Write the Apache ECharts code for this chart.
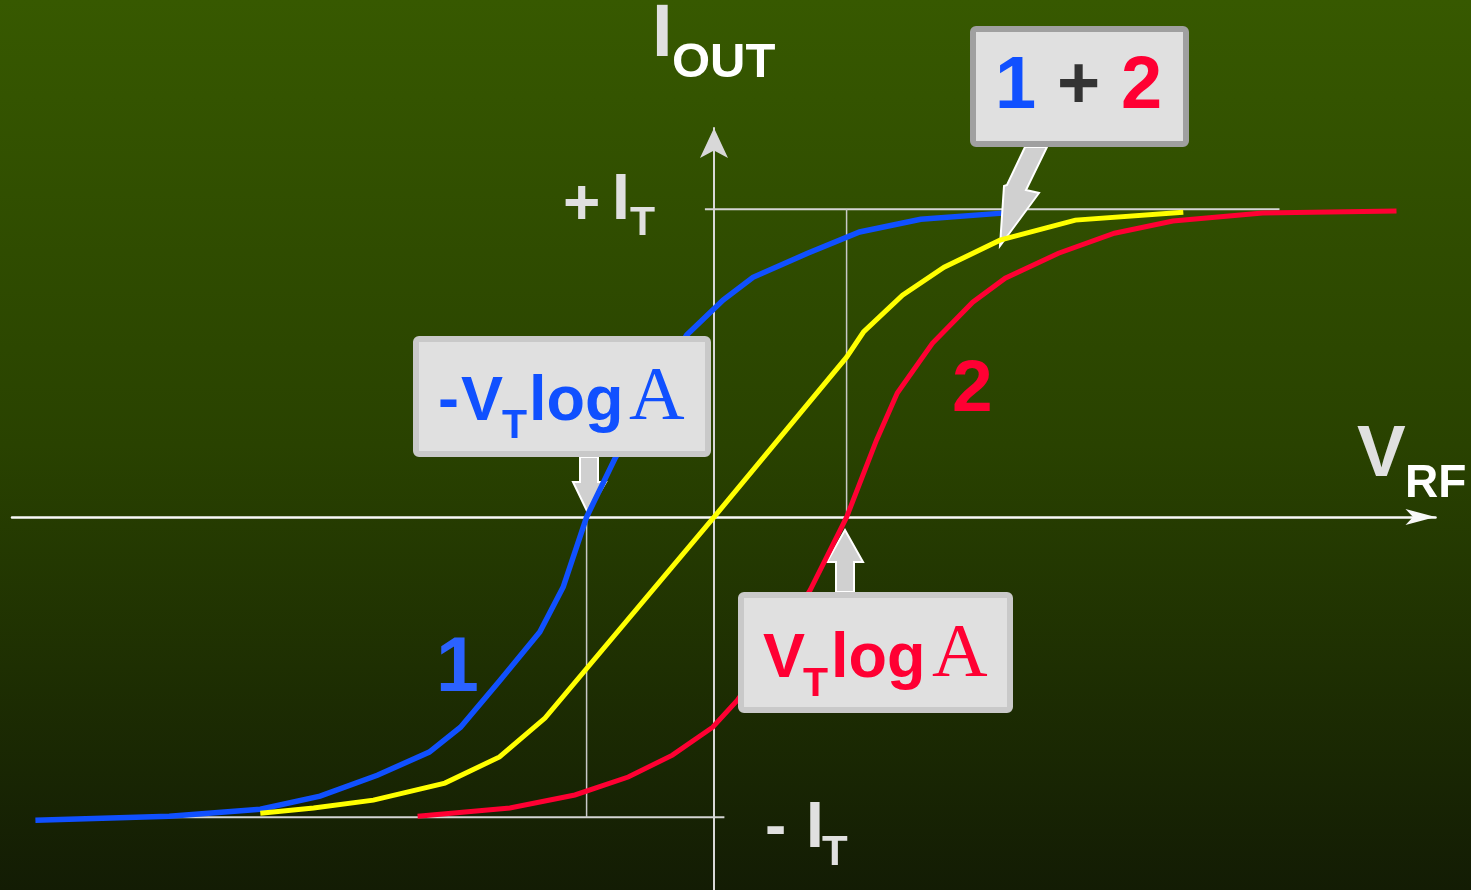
<!DOCTYPE html>
<html lang="ja">
<head>
<meta charset="utf-8" />
<title>I_OUT - V_RF</title>
<script src="https://cdn.jsdelivr.net/npm/echarts@6.0.0/dist/echarts.min.js"></script>
<style>
  html, body { margin: 0; padding: 0; background: #1c2c02; }
  .chart-container { width: 1471px; height: 890px; }
</style>
</head>
<body>
<div id="chart" class="chart-container"></div>
<script>
// 横軸: V_RF（VT·logA 単位）、縦軸: I_OUT（I_T 単位）

// 曲線1（青）
const curve1X = [-5.22, -4.19, -3.49, -3.03, -2.59, -2.19, -1.95, -1.65, -1.34, -1.16, -0.98, -0.76, -0.49, -0.21, 0.07, 0.30, 0.72, 1.12, 1.59, 2.22];
const curve1Y = [-0.997, -0.984, -0.961, -0.918, -0.849, -0.773, -0.691, -0.539, -0.378, -0.230, 0, 0.194, 0.401, 0.599, 0.714, 0.789, 0.868, 0.938, 0.980, 1.0];

// 曲線 1 + 2（黄）
const sumX = [-3.49, -3.08, -2.62, -2.07, -1.65, -1.30, 0, 1.02, 1.15, 1.45, 1.77, 2.20, 2.78, 3.61];
const sumY = [-0.974, -0.957, -0.931, -0.875, -0.789, -0.661, 0, 0.526, 0.609, 0.730, 0.822, 0.911, 0.977, 1.003];

// 曲線2（赤）
const curve2X = [-2.28, -1.57, -1.07, -0.66, -0.32, -0.01, 0.18, 0.45, 0.74, 1.02, 1.25, 1.41, 1.68, 1.99, 2.24, 2.65, 3.08, 3.53, 4.22, 5.25];
const curve2Y = [-0.984, -0.957, -0.914, -0.855, -0.783, -0.691, -0.602, -0.438, -0.240, 0, 0.253, 0.408, 0.572, 0.707, 0.786, 0.868, 0.934, 0.974, 1.0, 1.007];

// 補助線（±I_T と ±VT·logA）
const levelTop = 1.013;
const levelBottom = -0.987;
const topLineX = [-0.07, 4.35];
const bottomLineX = [-4.19, 0.08];
const offsetMinus = -0.98;
const offsetPlus = 1.02;

// 色
const BLUE = "#1050ff";
const YELLOW = "#ffff00";
const RED = "#ff0033";
const GUIDE = "#d4d4d4";

const zip = (xs, ys) => xs.map((x, i) => [x, ys[i]]);

const lineSeries = (name, data, color, width, z) => ({
  name,
  type: "line",
  data,
  z,
  smooth: false,
  showSymbol: false,
  symbol: "none",
  silent: true,
  lineStyle: { color, width, cap: "butt", join: "miter" },
});

const FONT = '"Liberation Sans", Arial, sans-serif';
const SERIF = '"Liberation Serif", "Times New Roman", serif';

// テキスト要素（verticalAlign middle で配置）
const txt = (text, x, y, size, fill, serif) => ({
  type: "text",
  x,
  y,
  z: 20,
  silent: true,
  style: {
    text,
    fill,
    font: (serif ? "normal " : "bold ") + size + "px " + (serif ? SERIF : FONT),
    align: "left",
    verticalAlign: "middle",
    textAlign: "left",
    textVerticalAlign: "middle",
  },
});

const box = (x, y, w, h, stroke) => ({
  type: "rect",
  z: 15,
  silent: true,
  shape: { x, y, width: w, height: h, r: 3 },
  style: { fill: "#e0e0e0", stroke, lineWidth: 6 },
});

const arrow = (points, z) => ({
  type: "polygon",
  z,
  silent: true,
  shape: { points },
  style: { fill: "#d0d0d0", stroke: "#ffffff", lineWidth: 2 },
});

const chart = echarts.init(document.getElementById("chart"), null, { renderer: "canvas" });

const option = {
  animation: false,
  backgroundColor: new echarts.graphic.LinearGradient(0, 0, 0, 1, [
    { offset: 0, color: "#375900" },
    { offset: 0.5, color: "#294200" },
    { offset: 1, color: "#131c04" },
  ]),
  grid: {
    left: 12,
    top: 128,
    width: 1423.5,
    height: 769.12,
    containLabel: false,
    outerBoundsMode: "none",
  },
  xAxis: {
    type: "value",
    min: -5.4,
    max: 5.55,
    axisLine: {
      onZero: true,
      symbol: ["none", "arrow"],
      symbolSize: [12, 30],
      lineStyle: { color: "#f8f8f8", width: 2.5 },
    },
    axisTick: { show: false },
    axisLabel: { show: false },
    splitLine: { show: false },
  },
  yAxis: {
    type: "value",
    min: -1.25,
    max: 1.28,
    axisLine: {
      onZero: true,
      symbol: ["none", "arrow"],
      symbolSize: [21, 30],
      lineStyle: { color: "#d8d8d8", width: 2 },
    },
    axisTick: { show: false },
    axisLabel: { show: false },
    splitLine: { show: false },
  },
  series: [
    lineSeries("+IT", topLineX.map((x) => [x, levelTop]), GUIDE, 2, 1),
    lineSeries("-IT", bottomLineX.map((x) => [x, levelBottom]), GUIDE, 2, 1),
    lineSeries("-VTlogA", [[offsetMinus, 0], [offsetMinus, levelBottom]], "#c8c8c8", 1.5, 1),
    lineSeries("VTlogA", [[offsetPlus, 0], [offsetPlus, levelTop]], "#c8c8c8", 1.5, 1),
    lineSeries("1", zip(curve1X, curve1Y), BLUE, 5.5, 3),
    lineSeries("2", zip(curve2X, curve2Y), RED, 5, 5),
    lineSeries("1 + 2", zip(sumX, sumY), YELLOW, 5, 6),
  ],
  graphic: {
    elements: [
      // 矢印
      arrow([[580, 457], [598, 457], [598, 482], [606, 482], [588, 513], [573, 482], [580, 482]], 2),
      arrow([[836, 592], [854, 592], [854, 562], [863, 562], [845, 530], [827, 562], [836, 562]], 2),
      arrow([[1025, 147], [1047, 147], [1026, 190], [1039, 193], [1000, 246], [1004, 186], [1007, 185]], 4),

      // 軸ラベル
      txt("I", 652, 36, 74, "#e0e0e0"),
      txt("OUT", 672, 63, 49, "#ffffff"),
      txt("V", 1357, 456, 73, "#e0e0e0"),
      txt("RF", 1405, 484, 46, "#ffffff"),
      txt("+", 563, 206, 64, "#e0e0e0"),
      txt("I", 612, 201, 64, "#e0e0e0"),
      txt("T", 630, 224, 41, "#e0e0e0"),
      txt("-", 765, 829, 64, "#e0e0e0"),
      txt("I", 806, 829, 64, "#e0e0e0"),
      txt("T", 822, 853, 42, "#e0e0e0"),

      // 曲線ラベル
      txt("1", 436, 670, 77, "#2b62ff"),
      txt("2", 952, 391, 73, RED),

      // -VT log A
      box(416, 339, 292, 115, "#c9c9c9"),
      txt("-", 438, 403, 63, BLUE),
      txt("V", 461, 403, 63, BLUE),
      txt("T", 502, 427, 41, BLUE),
      txt("log", 529, 403, 63, BLUE),
      txt("A", 629, 399, 77, BLUE, true),

      // VT log A
      box(741, 595, 269, 115, "#c9c9c9"),
      txt("V", 763, 660, 63, RED),
      txt("T", 803, 685, 41, RED),
      txt("log", 831, 660, 63, RED),
      txt("A", 932, 656, 77, RED, true),

      // 1 + 2
      box(973, 29, 213, 115, "#a0a0a0"),
      txt("1", 995, 88, 74, BLUE),
      txt("+", 1057, 88, 74, "#333333"),
      txt("2", 1121, 88, 74, RED),
    ],
  },
};

chart.setOption(option);

window.addEventListener("resize", () => {
  chart.resize();
});
</script>
</body>
</html>
